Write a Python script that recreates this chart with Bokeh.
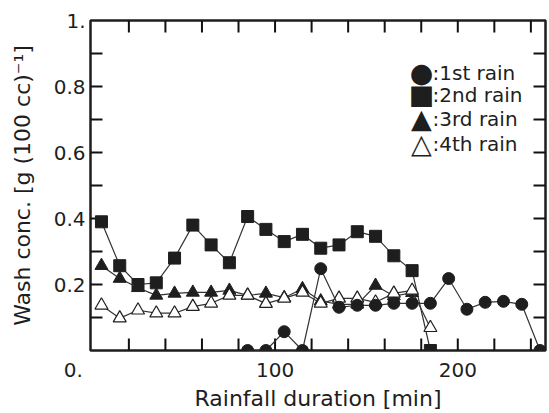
import math
from bokeh.plotting import figure
from bokeh.models import (FixedTicker, CustomJSTickFormatter, Label, Range1d, ColumnDataSource)
from bokeh.embed import file_html
from bokeh.resources import INLINE

# ---- data ----
time_1st = [85, 95, 105, 115, 125, 135, 145, 155, 165, 175, 185, 195, 205, 215, 225, 235, 245]
conc_1st = [0.0, 0.0, 0.057, 0.0, 0.248, 0.131, 0.137, 0.137, 0.143, 0.143, 0.143,
            0.218, 0.125, 0.146, 0.149, 0.14, 0.0]

time_2nd = [5, 15, 25, 35, 45, 55, 65, 75, 85, 95, 105, 115, 125, 135, 145, 155, 165, 175, 185]
conc_2nd = [0.39, 0.257, 0.20, 0.205, 0.28, 0.38, 0.32, 0.266, 0.406, 0.367, 0.33, 0.352,
            0.31, 0.32, 0.36, 0.346, 0.287, 0.242, 0.0]

time_3rd = [5, 15, 25, 35, 45, 55, 65, 75, 85, 95, 105, 115, 125, 135, 145, 155, 165, 175]
conc_3rd = [0.257, 0.218, 0.19, 0.167, 0.173, 0.176, 0.176, 0.182, 0.167, 0.173, 0.16,
            0.187, 0.15, 0.14, 0.14, 0.197, 0.165, 0.175]

time_4th = [5, 15, 25, 35, 45, 55, 65, 75, 85, 95, 105, 115, 125, 135, 145, 155, 165, 175, 185]
conc_4th = [0.137, 0.098, 0.122, 0.113, 0.113, 0.133, 0.143, 0.167, 0.167, 0.142, 0.158,
            0.176, 0.143, 0.158, 0.158, 0.146, 0.173, 0.182, 0.069]

legend_symbols = ["●", "■", "▲", "△"]
legend_texts = [":1st rain", ":2nd rain", ":3rd rain", ":4th rain"]

x_labelled = [0, 100, 200]
x_ticks = [20, 40, 60, 80, 100, 120, 140, 160, 180, 200, 220, 240]
y_labelled = [0.2, 0.4, 0.6, 0.8, 1.0]
y_ticks = [0.1, 0.2, 0.3, 0.4, 0.5, 0.6, 0.7, 0.8, 0.9]
x_start, x_end = -1, 248
y_start, y_end = 0.0, 1.0

FONT = "DejaVu Sans"
INK = "#1e1e1e"

p = figure(width=549, height=413, output_backend="svg", toolbar_location=None,
           x_range=Range1d(x_start, x_end), y_range=Range1d(y_start, y_end),
           min_border_left=90, min_border_top=20, min_border_right=4,
           min_border_bottom=57, background_fill_color="white",
           border_fill_color="white")
p.grid.visible = False
p.outline_line_color = INK
p.outline_line_width = 2.5

def style_axis(ax):
    ax.axis_line_color = None
    ax.major_tick_line_color = None
    ax.minor_tick_line_color = None
    ax.major_tick_in = 0
    ax.major_tick_out = 0
    ax.minor_tick_in = 0
    ax.minor_tick_out = 0
    ax.major_label_text_font = FONT
    ax.major_label_text_color = INK
    ax.major_label_text_font_size = "20px"
    ax.axis_label_text_font = FONT
    ax.axis_label_text_font_size = "22px"
    ax.axis_label_text_font_style = "normal"
    ax.axis_label_text_color = INK

xa = p.xaxis[0]
xa.ticker = FixedTicker(ticks=x_labelled)
# the origin label "0." sits left of the corner, as in the reference
xa.formatter = CustomJSTickFormatter(
    code="return tick == 0 ? '0.\u2007\u2007\u2007' : tick.toFixed(0);")
style_axis(xa)
xa.major_label_standoff = 7
xa.axis_label = "Rainfall duration [min]"
xa.axis_label_standoff = 1

ya = p.yaxis[0]
ya.ticker = FixedTicker(ticks=y_labelled)
ya.formatter = CustomJSTickFormatter(code="return tick > 0.99 ? '1.' : tick.toFixed(1);")
style_axis(ya)
ya.major_label_standoff = 5
ya.axis_label = "Wash conc. [g (100 cc)⁻¹]"
ya.axis_label_standoff = 16

# inward tick marks on all four sides
tick_kw = dict(length=12, length_units="screen", line_color="#111111", line_width=2)
p.ray(x_ticks, [y_start] * len(x_ticks), angle=math.pi / 2, **tick_kw)
p.ray(x_ticks, [y_end] * len(x_ticks), angle=-math.pi / 2, **tick_kw)
p.ray([x_start] * len(y_ticks), y_ticks, angle=0, **tick_kw)
p.ray([x_end] * len(y_ticks), y_ticks, angle=math.pi, **tick_kw)

LINE = "#333333"
s2 = ColumnDataSource(dict(x=time_2nd, y=conc_2nd))
s3 = ColumnDataSource(dict(x=time_3rd, y=conc_3rd))
s4 = ColumnDataSource(dict(x=time_4th, y=conc_4th))
s1 = ColumnDataSource(dict(x=time_1st, y=conc_1st))

p.line("x", "y", source=s2, line_color=LINE, line_width=1.2)
p.scatter("x", "y", source=s2, marker="square", size=12, fill_color=INK, line_color=INK)
p.line("x", "y", source=s3, line_color=LINE, line_width=1.2)
p.scatter("x", "y", source=s3, marker="triangle", size=13, fill_color=INK, line_color=INK)
p.line("x", "y", source=s4, line_color=LINE, line_width=1.2)
p.scatter("x", "y", source=s4, marker="triangle", size=13, fill_color="white",
          line_color=INK, line_width=1.2)
p.line("x", "y", source=s1, line_color=LINE, line_width=1.2)
p.scatter("x", "y", source=s1, marker="circle", size=12, fill_color=INK, line_color=INK)

# legend (symbol + text), positioned in screen units relative to the frame
row_y = [278, 256, 232, 207]
for sym, txt, yy in zip(legend_symbols, legend_texts, row_y):
    p.add_layout(Label(x=331, y=yy, x_units="screen", y_units="screen", text=sym,
                       text_align="center", text_baseline="middle", text_font=FONT,
                       text_font_size="27px", text_color=INK))
    p.add_layout(Label(x=342, y=yy, x_units="screen", y_units="screen", text=txt,
                       text_align="left", text_baseline="middle", text_font=FONT,
                       text_font_size="20px", text_color=INK))

open("out.html", "w").write(file_html(p, INLINE))
